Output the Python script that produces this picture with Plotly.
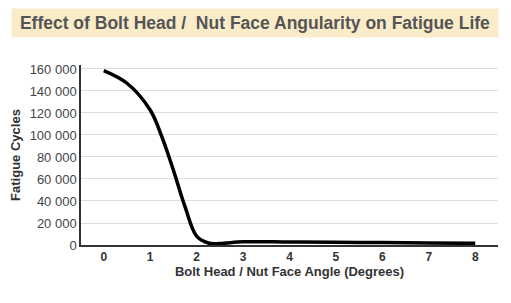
import plotly.graph_objects as go

angle = [0, 0.5, 1, 1.25, 1.5, 1.75, 2, 2.25, 2.5, 3, 4, 5, 6, 7, 8]
cycles = [158500, 147000, 122700, 98500, 68000, 34800, 8000, 1800, 1300, 2900, 2700, 2500, 2200, 1800, 1500]

x_ticks = [0, 1, 2, 3, 4, 5, 6, 7, 8]
y_ticks = [0, 20000, 40000, 60000, 80000, 100000, 120000, 140000, 160000]
y_labels = ["0", "20 000", "40 000", "60 000", "80 000", "100 000", "120 000", "140 000", "160 000"]

title_text = "Effect of Bolt Head /\u00a0 Nut Face Angularity on Fatigue Life"

fig = go.Figure()
fig.add_trace(go.Scatter(x=angle, y=cycles, mode="lines",
                         line=dict(color="black", width=3.5, shape="spline", smoothing=1.0),
                         hoverinfo="skip"))

fig.update_layout(
    width=511, height=303,
    margin=dict(l=81, r=13, t=65, b=58),
    paper_bgcolor="white", plot_bgcolor="white",
    showlegend=False,
    font=dict(family="Liberation Sans, Arial, sans-serif", color="#444"),
    xaxis=dict(range=[-0.49, 8.49], tickvals=x_ticks, showgrid=False,
               showline=True, linecolor="#333", linewidth=1.5, ticks="",
               tickfont=dict(size=12, color="#333", family="Liberation Sans, Arial, sans-serif", weight="bold"),
               title=dict(text="<b>Bolt Head / Nut Face Angle (Degrees)</b>", standoff=4,
                          font=dict(size=13, color="#333")),
               zeroline=False),
    yaxis=dict(range=[0, 163600], tickvals=y_ticks, ticktext=y_labels,
               showgrid=True, gridcolor="#dddddd", gridwidth=1,
               showline=True, linecolor="#333", linewidth=1.5, ticks="",
               tickfont=dict(size=13, color="#444"),
               title=dict(text="<b>Fatigue Cycles</b>", standoff=6,
                          font=dict(size=13, color="#333")),
               zeroline=False),
    annotations=[dict(text="<b>" + title_text + "</b>", xref="paper", yref="paper",
                      x=0.5, y=1, yshift=0, xanchor="center", yanchor="bottom",
                      showarrow=False, bgcolor="#fbecc9", width=484, height=26,
                      font=dict(size=17.5, color="#555"))],
)
plot_h = 303 - 65 - 58
fig.layout.annotations[0].y = 1 + (65 - 38) / plot_h
fig.layout.annotations[0].x = (255 - 81) / (511 - 81 - 13)

fig.write_html("out.html")
